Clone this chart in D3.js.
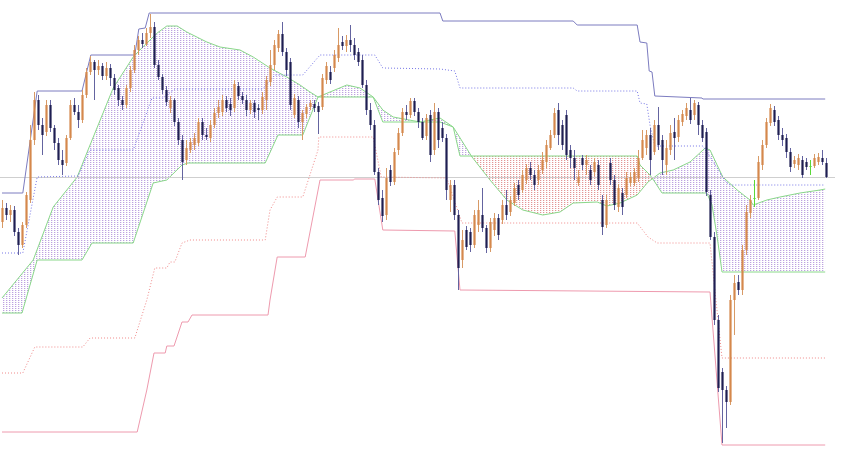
<!DOCTYPE html>
<html><head><meta charset="utf-8">
<script src="https://cdn.jsdelivr.net/npm/d3@7"></script>
<style>html,body{margin:0;padding:0;background:#fff;}svg{display:block;}</style>
</head><body>
<svg id="chart" width="850" height="450"></svg>
<script>
// ---- Data (price units, arbitrary scale) ----
const opens = [
228,242,235,240,218,205,225,250,310,350, 325,318,345,322,307,290,287,312,345,338,
330,355,378,388,380,384,374,382,372,362, 350,345,362,380,400,410,406,417,423,385,
373,360,342,350,328,310,290,300,305,307, 328,315,312,325,337,338,350,346,342,364,
354,350,340,347,342,340,350,368,385,402, 416,398,388,335,350,328,336,343,346,344,
343,370,378,382,392,408,404,410,405,398, 390,365,340,325,278,252,235,280,268,300,
317,338,335,349,338,328,314,335,300,338, 322,312,250,265,235,190,220,218,205,225,
235,222,202,220,232,230,245,238,247,265, 260,270,282,275,270,280,288,302,315,340,
325,335,300,292,267,292,285,280,278,285, 250,225,287,270,243,257,255,267,267,272,
292,302,315,298,325,310,285,300,318,313, 328,334,340,335,345,325,318,255,213,130,
78,60,48,150,168,160,200,237,251,252, 285,305,327,340,330,315,312,298,286,285,
290,288,283,284,288,292,287];
const highs = [
250,247,245,244,222,228,258,325,358,355, 332,350,350,325,312,300,315,350,352,345,
360,382,394,390,390,387,388,386,376,365, 354,365,384,405,414,417,422,436,428,390,
376,364,354,352,332,315,310,312,317,332, 332,322,330,342,350,355,354,352,370,368,
358,355,350,350,346,358,374,400,410,420, 428,402,392,356,354,340,346,350,350,348,
376,388,384,400,422,414,415,425,412,402, 395,370,347,330,282,260,282,285,302,322,
342,345,352,352,342,332,336,340,347,342, 328,316,270,270,240,220,224,222,240,250,
262,225,232,237,236,250,260,254,267,270, 280,286,288,280,285,298,310,320,342,347,
330,340,305,300,280,295,295,285,292,290, 255,255,292,275,266,262,278,278,282,300,
320,320,322,330,343,315,310,325,332,335, 340,347,352,350,348,330,322,260,218,135,
82,64,155,175,175,205,245,255,270,294, 310,332,346,344,334,322,316,302,294,296,
294,292,290,296,297,300,292];
const lows = [
222,230,228,214,195,202,222,247,305,320, 295,314,318,300,285,275,284,310,335,322,
327,352,375,350,375,370,370,364,355,344, 340,342,358,377,395,402,404,412,382,370,
356,344,337,324,305,270,285,297,300,304, 310,310,308,322,332,334,338,334,338,350,
346,334,336,332,330,336,340,364,380,398, 394,374,340,332,322,310,332,340,338,316,
340,366,366,378,388,400,398,398,390,384, 362,335,320,275,245,228,230,264,265,295,
314,330,332,334,322,310,310,288,295,302, 308,250,238,230,160,182,200,198,202,218,
218,197,198,214,210,226,230,234,244,250, 257,266,270,260,265,276,282,300,312,305,
300,290,282,270,264,280,275,265,274,260, 215,222,265,240,238,235,252,264,264,268,
290,295,275,295,300,275,275,295,290,308, 324,330,326,330,315,308,254,210,125,58,
7,22,45,115,155,155,195,232,243,250, 280,302,324,324,310,304,292,278,282,280,
272,280,275,282,285,285,272];
const closes = [
242,235,240,218,205,225,255,310,350,325, 315,345,322,307,290,285,312,345,338,330,
355,378,388,380,384,374,382,372,360,350, 345,362,380,400,410,406,417,423,385,373,
360,348,350,328,310,288,302,308,312,328, 315,313,325,337,343,350,342,340,366,354,
350,340,347,338,340,353,370,385,405,416, 398,380,345,352,328,337,343,347,342,338,
372,384,370,395,405,404,410,405,395,388, 365,340,325,278,250,234,272,268,298,317,
338,335,349,338,328,312,332,295,338,310, 312,260,265,235,182,210,203,205,235,240,
222,202,228,232,215,245,235,250,262,255, 275,282,275,265,280,290,305,315,337,315,
305,295,292,282,273,285,290,270,288,265, 223,250,270,245,262,243,272,273,278,292,
310,315,290,325,305,290,302,317,312,330, 336,342,330,347,325,312,258,213,130,62,
60,48,150,167,160,200,238,250,252,288, 305,328,342,328,315,310,298,283,290,292,
275,283,284,292,293,288,273];
const greenBars = [188, 202];

// Indicator lines: [bar index, price] vertices
const upperChannel = [[0,257],[5.2,257],[8.8,359],[20,359],[22.2,395],[33.2,395],[34.2,421],[35.8,422],[36.8,437],[109.5,437],[110.2,429],[142.8,429],[143.8,425],[158.8,425],[159.5,408],[161.2,407],[161.8,379],[162.5,378],[163.2,354],[175,352],[175.2,351],[205.8,351]];
const upperFast = [[0,197],[5.2,197],[8.8,273],[19,274],[22,300],[32.8,300],[37.5,352],[40.2,352],[43.2,361],[65.2,361],[68.2,375],[75.2,375],[79.5,395],[93.2,395],[95.2,382],[109.5,381],[113.2,379],[114.5,362],[142.8,362],[143.8,359],[158.8,359],[159.5,347],[161.2,346],[162,325],[163.2,304],[175.2,304],[177.5,290],[181,268],[182,265],[205.8,265]];
const lowerChannel = [[0,18],[33.8,18],[36.2,60],[38,97],[40.8,97],[41.2,104],[43,104],[45,128],[46.5,128],[47.5,135],[66.5,135],[67,150],[68.8,193],[75.8,193],[79.5,270],[87.8,270],[88.2,271],[93.2,271],[95.2,220],[113.2,219],[114.5,160],[177,158],[180,5],[205.8,5]];
const lowerFast = [[0,77],[5.2,77],[8.2,103],[20.2,103],[22,112],[33.2,112],[36.2,150],[38.2,182],[41.2,182],[42,188],[43.2,188],[45,207],[47,210],[65.8,210],[67,240],[68.8,253],[75.2,253],[79,300],[79.2,313],[92.8,313],[94.8,273],[111.2,272],[115,227],[158.8,227],[161.5,213],[163.8,207],[177,207],[180,92],[205.8,92]];
const spanA = [[0,152],[7.8,190],[12.8,243],[18.8,273],[21.5,300],[27.8,362],[32.8,393],[35.2,403],[38.8,417],[41.2,424],[43.8,424],[46.2,418],[51.2,408],[54.5,403],[59.5,400],[62.8,393],[67,382],[71.2,373],[74.5,365],[77,358],[79,353],[82,358],[86.2,365],[89.5,362],[92.8,353],[95.2,340],[97.8,333],[104.5,328],[109.5,332],[112.8,323],[117.5,293],[122,270],[126.2,250],[130.2,240],[135.2,235],[139.5,238],[142.8,247],[148.8,248],[151.2,244],[154.5,247],[158.8,255],[161.5,268],[164.5,277],[167.8,280],[172,288],[175.8,302],[177,300],[180.2,273],[183.8,260],[187,250],[187.8,245],[191.2,250],[194.5,253],[199.5,257],[204.5,260],[205.8,261]];
const spanB = [[0,137],[5,137],[8.8,190],[20,190],[22.5,207],[32.8,207],[37.8,267],[41.2,270],[45,285],[46.5,287],[65.8,287],[69,315],[75.2,315],[79,353],[92.8,353],[95.2,328],[109.5,328],[112.8,323],[114.5,294],[158.8,294],[159.5,285],[162,275],[163.2,268],[165,257],[176.2,257],[177.5,245],[178.8,213],[180,178],[205.8,178]];

// ---- Drawing ----
const W = 850, H = 450, N = closes.length;
const svg = d3.select("#chart");
const x = d3.scaleLinear().domain([0, N - 1]).range([2, 826]);
const y = d3.scaleLinear().domain([0, 450]).range([H, 0]);

const defs = svg.append("defs");
function hatch(id, dark, light) {
  const p = defs.append("pattern").attr("id", id).attr("width", 3).attr("height", 2)
    .attr("patternUnits", "userSpaceOnUse");
  p.append("rect").attr("x", 0).attr("y", 0).attr("width", 1).attr("height", 1).attr("fill", dark);
  p.append("rect").attr("x", 1).attr("y", 0).attr("width", 1).attr("height", 1).attr("fill", light);
}
hatch("hatchP", "#9468cc", "#ddd2f0");
hatch("hatchR", "#d05454", "#f4d2d2");

const areaToBottom = d3.area().x(d => x(d[0])).y0(H).y1(d => y(d[1]));
const areaToTop = d3.area().x(d => x(d[0])).y0(0).y1(d => y(d[1]));
const line = d3.line().x(d => x(d[0])).y(d => y(d[1]));

defs.append("clipPath").attr("id", "belowA").append("path").attr("d", areaToBottom(spanA));
defs.append("clipPath").attr("id", "aboveA").append("path").attr("d", areaToTop(spanA));

// bullish cloud (A above B)
svg.append("path").attr("d", areaToTop(spanB)).attr("fill", "url(#hatchP)")
  .attr("clip-path", "url(#belowA)").attr("opacity", 0.62);
// bearish cloud (B above A)
svg.append("path").attr("d", areaToBottom(spanB)).attr("fill", "url(#hatchR)")
  .attr("clip-path", "url(#aboveA)").attr("opacity", 0.62);

// cloud edges
svg.append("path").attr("d", line(spanA)).attr("fill", "none").attr("stroke", "#8ad88a").attr("stroke-width", 1);
svg.append("path").attr("d", line(spanB)).attr("fill", "none").attr("stroke", "#8ad88a").attr("stroke-width", 1);

// price line
const last = closes[N - 1];
svg.append("line").attr("x1", 0).attr("x2", 835).attr("y1", Math.round(y(last)) + 0.5).attr("y2", Math.round(y(last)) + 0.5)
  .attr("stroke", "#cfcfcf").attr("stroke-width", 1);

// channels
svg.append("path").attr("d", line(upperChannel)).attr("fill", "none").attr("stroke", "#7c7cc0").attr("stroke-width", 1);
svg.append("path").attr("d", line(upperFast)).attr("fill", "none").attr("stroke", "#7676e6").attr("stroke-width", 1).attr("stroke-dasharray", "1,2");
svg.append("path").attr("d", line(lowerChannel)).attr("fill", "none").attr("stroke", "#ee9aae").attr("stroke-width", 1);
svg.append("path").attr("d", line(lowerFast)).attr("fill", "none").attr("stroke", "#f08a8a").attr("stroke-width", 1).attr("stroke-dasharray", "1,2");

// candles
const idx = d3.range(N);
const g = svg.append("g");
g.selectAll("line.wick").data(idx).join("line").attr("class", "wick")
  .attr("x1", i => x(i) + 0.5).attr("x2", i => x(i) + 0.5)
  .attr("y1", i => y(highs[i])).attr("y2", i => y(lows[i]))
  .attr("stroke", i => greenBars.includes(i) ? "#5ad838" : (closes[i] >= opens[i] ? "#d89a66" : "#6464a0"))
  .attr("stroke-width", 1);
g.selectAll("rect.body").data(idx).join("rect").attr("class", "body")
  .attr("x", i => x(i) - 0.6).attr("width", 2.2)
  .attr("y", i => y(Math.max(opens[i], closes[i])))
  .attr("height", i => Math.max(1, Math.abs(y(opens[i]) - y(closes[i]))))
  .attr("fill", i => greenBars.includes(i) ? "#5ad838" : (closes[i] >= opens[i] ? "#d5884c" : "#1e1e52"));
</script>
</body></html>
